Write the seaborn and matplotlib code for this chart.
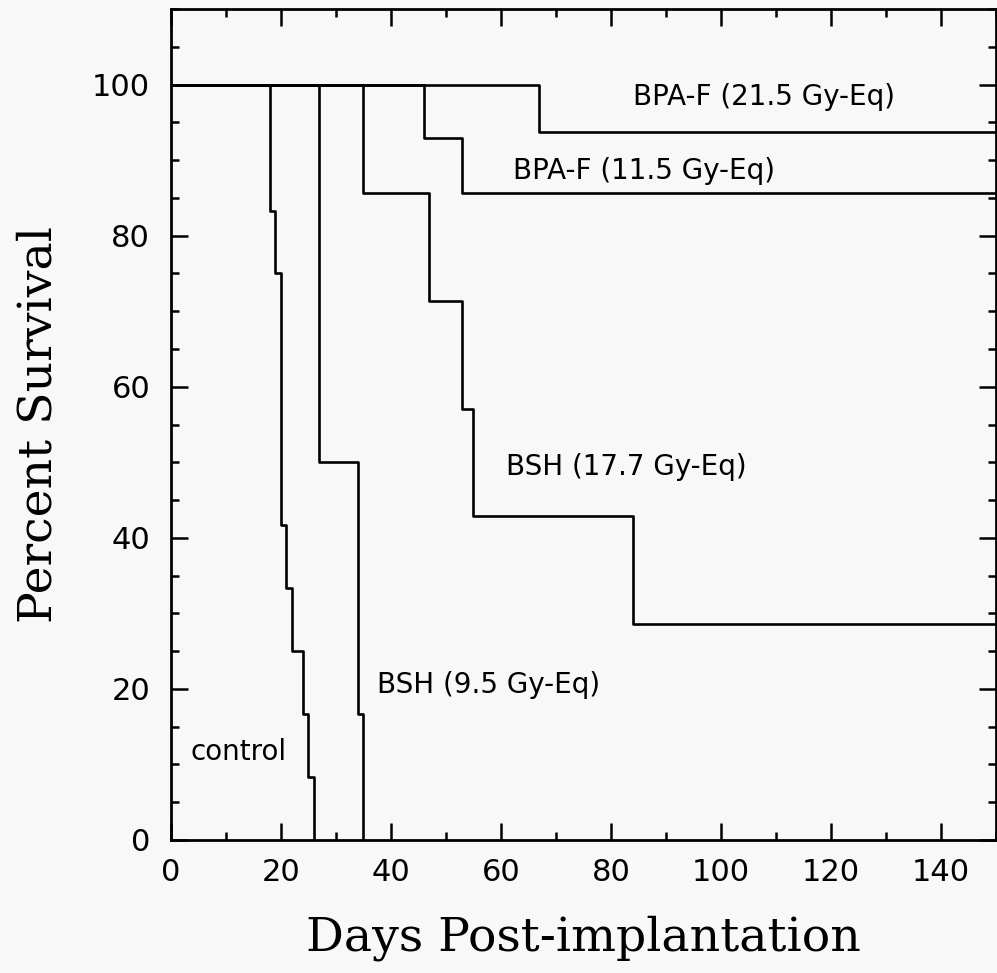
import numpy as np
import pandas as pd
import matplotlib
matplotlib.use("Agg")
import matplotlib.pyplot as plt
import seaborn as sns
from matplotlib.ticker import MultipleLocator

# Kaplan-Meier steps: (day of death, % surviving after it)
control_days = [0, 18, 19, 20, 21, 22, 24, 25, 26]
control_surv = [100, 83.3, 75.0, 41.7, 33.3, 25.0, 16.7, 8.3, 0]

bsh95_days = [0, 27, 34, 35]
bsh95_surv = [100, 50.0, 16.7, 0]

bsh177_days = [0, 35, 47, 53, 55, 84, 150]
bsh177_surv = [100, 85.7, 71.4, 57.1, 42.9, 28.6, 28.6]

bpa115_days = [0, 46, 53, 150]
bpa115_surv = [100, 92.9, 85.7, 85.7]

bpa215_days = [0, 67, 150]
bpa215_surv = [100, 93.75, 93.75]

groups = ["control", "BSH (9.5 Gy-Eq)", "BSH (17.7 Gy-Eq)",
          "BPA-F (11.5 Gy-Eq)", "BPA-F (21.5 Gy-Eq)"]
all_days = [control_days, bsh95_days, bsh177_days, bpa115_days, bpa215_days]
all_surv = [control_surv, bsh95_surv, bsh177_surv, bpa115_surv, bpa215_surv]

# where each curve's label sits (data coords)
label_x = [3.6, 37.4, 61.0, 62.2, 84.0]
label_y = [11.7, 20.5, 49.4, 88.5, 98.3]

df = pd.concat([pd.DataFrame({"day": d, "surv": s, "group": g})
                for g, d, s in zip(groups, all_days, all_surv)], ignore_index=True)

sns.set_theme(style="ticks")
plt.rcParams["font.family"] = ["DejaVu Sans"]

fig = plt.figure(figsize=(9.97, 9.73), dpi=100, facecolor="#f8f8f8")
ax = fig.add_axes([0.1715, 0.1367, 0.8275, 0.854])
ax.set_facecolor("#f8f8f8")

for g in groups:
    sns.lineplot(data=df[df.group == g], x="day", y="surv", ax=ax,
                 color="black", lw=1.9, drawstyle="steps-post",
                 estimator=None, sort=False)

for g, tx, ty in zip(groups, label_x, label_y):
    ax.text(tx, ty, g, fontsize=20, ha="left", va="center", color="black")

ax.set_xlim(0, 150)
ax.set_ylim(0, 110)
ax.xaxis.set_major_locator(MultipleLocator(20))
ax.xaxis.set_minor_locator(MultipleLocator(10))
ax.yaxis.set_major_locator(MultipleLocator(20))
ax.yaxis.set_minor_locator(MultipleLocator(5))
ax.set_xticks(np.arange(0, 141, 20))
ax.set_yticks(np.arange(0, 101, 20))

ax.tick_params(which="both", direction="in", top=True, right=True,
               width=1.8, colors="black", labelsize=22)
ax.tick_params(which="major", length=12, pad=13)
ax.tick_params(which="minor", length=6)
ax.tick_params(axis="y", which="major", pad=15)

for sp in ax.spines.values():
    sp.set_visible(True)
    sp.set_linewidth(2.0)
    sp.set_color("black")

ax.set_xlabel("Days Post-implantation", fontsize=34, family="DejaVu Serif",
              color="black", labelpad=20)
ax.set_ylabel("Percent Survival", fontsize=34, family="DejaVu Serif",
              color="black", labelpad=22)

fig.savefig("out.png", dpi=100, facecolor=fig.get_facecolor())
